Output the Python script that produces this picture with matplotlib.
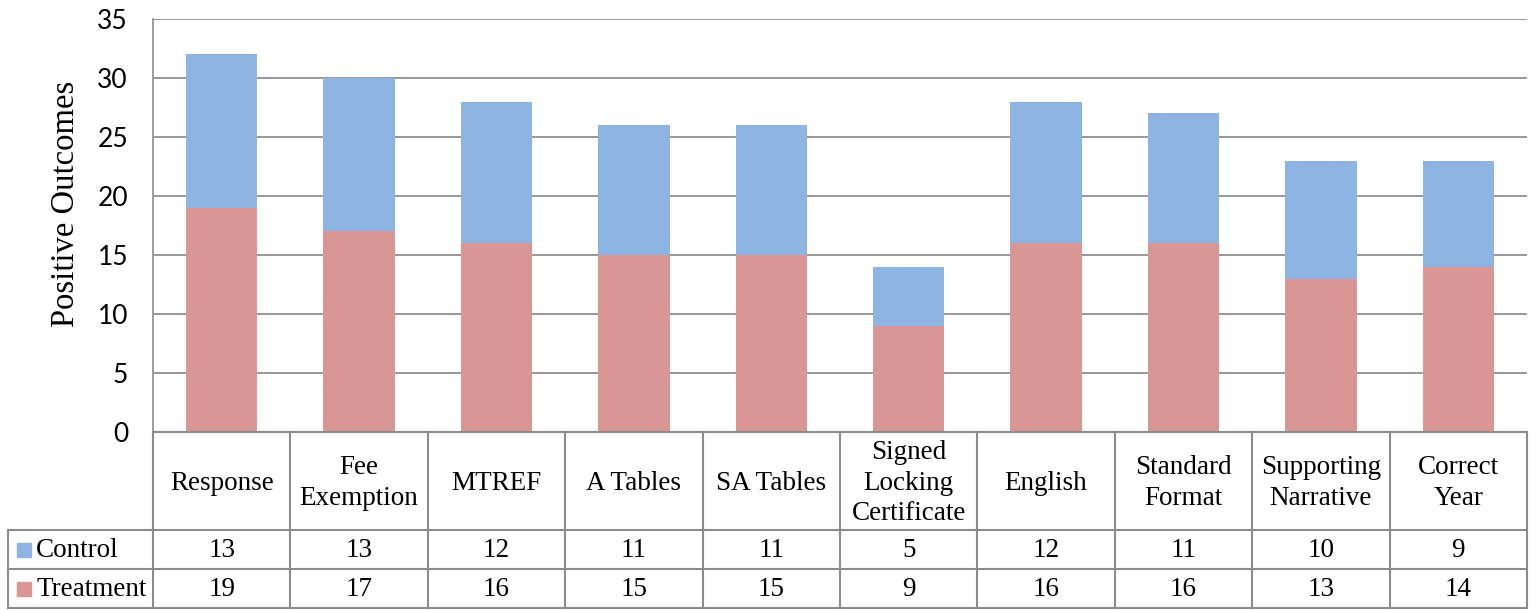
import matplotlib
matplotlib.use('Agg')
import matplotlib.pyplot as plt
from matplotlib.patches import Rectangle

########################################################################################################################
## Data
########################################################################################################################
categories = ['Response', 'Fee\nExemption', 'MTREF', 'A Tables', 'SA Tables',
              'Signed\nLocking\nCertificate', 'English', 'Standard\nFormat',
              'Supporting\nNarrative', 'Correct\nYear']
control = [13, 13, 12, 11, 11, 5, 12, 11, 10, 9]
treatment = [19, 17, 16, 15, 15, 9, 16, 16, 13, 14]
series_names = ['Control', 'Treatment']
yticks = [0, 5, 10, 15, 20, 25, 30, 35]

blue = '#8EB4E3'
red = '#D99694'
grid_col = '#868686'
line_col = '#8C8C8C'
serif = 'Liberation Serif'
sans = 'Lato'

########################################################################################################################
## Figure and chart area
########################################################################################################################
W, H = 1531, 610
fig = plt.figure(figsize=(W / 100, H / 100), dpi=100)

left_px, right_px, top_px, zero_px = 153, 1527, 19, 432
ax = fig.add_axes([left_px / W, 1 - zero_px / H, (right_px - left_px) / W, (zero_px - top_px) / H])

x = list(range(len(categories)))
ax.bar(x, treatment, width=0.52, color=red, zorder=2)
ax.bar(x, control, width=0.52, bottom=treatment, color=blue, zorder=2)

ax.set_xlim(-0.5, len(categories) - 0.5)
ax.set_ylim(0, 35)
ax.set_yticks(yticks)
ax.set_yticklabels([str(t) for t in yticks], fontsize=19, family=sans)
ax.tick_params(axis='y', length=0, pad=18)
ax.tick_params(axis='x', length=0, labelbottom=False)
ax.yaxis.grid(True, color=grid_col, linewidth=1.2, zorder=0)
for s in ['top', 'right', 'bottom']:
    ax.spines[s].set_visible(False)
ax.spines['left'].set_color(line_col)
ax.spines['left'].set_linewidth(1.2)

fig.text(66 / W, 1 - 204 / H, 'Positive Outcomes', rotation=90, ha='center', va='center',
         fontsize=23.5, family=serif)

########################################################################################################################
## Data table under the chart
########################################################################################################################
col_px = (right_px - left_px) / len(categories)
head_units = (left_px - 8) / col_px
row_h = [98, 39, 39]
tab_top, tab_bot = zero_px, 608

tab = fig.add_axes([8 / W, 1 - tab_bot / H, (right_px - 8) / W, (tab_bot - tab_top) / H])
tab.set_xlim(-0.5 - head_units, len(categories) - 0.5)
tab.set_ylim(tab_bot - tab_top, 0)
tab.axis('off')

lw = 1.5
fs = 19.5
y0, y1, y2, y3 = 0, row_h[0], row_h[0] + row_h[1], sum(row_h)
xl = -0.5 - head_units
xr = len(categories) - 0.5

# horizontal rules
tab.plot([-0.5, xr], [y0, y0], color=line_col, lw=lw, clip_on=False)
for yy in (y1, y2, y3):
    tab.plot([xl, xr], [yy, yy], color=line_col, lw=lw, clip_on=False)
# vertical rules
tab.plot([xl, xl], [y1, y3], color=line_col, lw=lw, clip_on=False)
for i in range(len(categories) + 1):
    xv = i - 0.5
    tab.plot([xv, xv], [y0, y3], color=line_col, lw=lw, clip_on=False)

for i, name in enumerate(categories):
    tab.text(i, (y0 + y1) / 2 + 2, name, ha='center', va='center', fontsize=fs,
             family=serif, linespacing=1.3)
    tab.text(i, (y1 + y2) / 2 + 1, str(control[i]), ha='center', va='center',
             fontsize=fs, family=serif)
    tab.text(i, (y2 + y3) / 2 + 1, str(treatment[i]), ha='center', va='center',
             fontsize=fs, family=serif)

# series keys in the header column
sw = 14 / col_px
for (name, colr, ya, yb) in [(series_names[0], blue, y1, y2), (series_names[1], red, y2, y3)]:
    yc = (ya + yb) / 2
    tab.add_patch(Rectangle((xl + 9 / col_px, yc - 7), sw, 14, color=colr, clip_on=False))
    tab.text(xl + 28 / col_px, yc + 1, name, ha='left', va='center', fontsize=fs, family=serif)

fig.savefig('out.png', dpi=100)
